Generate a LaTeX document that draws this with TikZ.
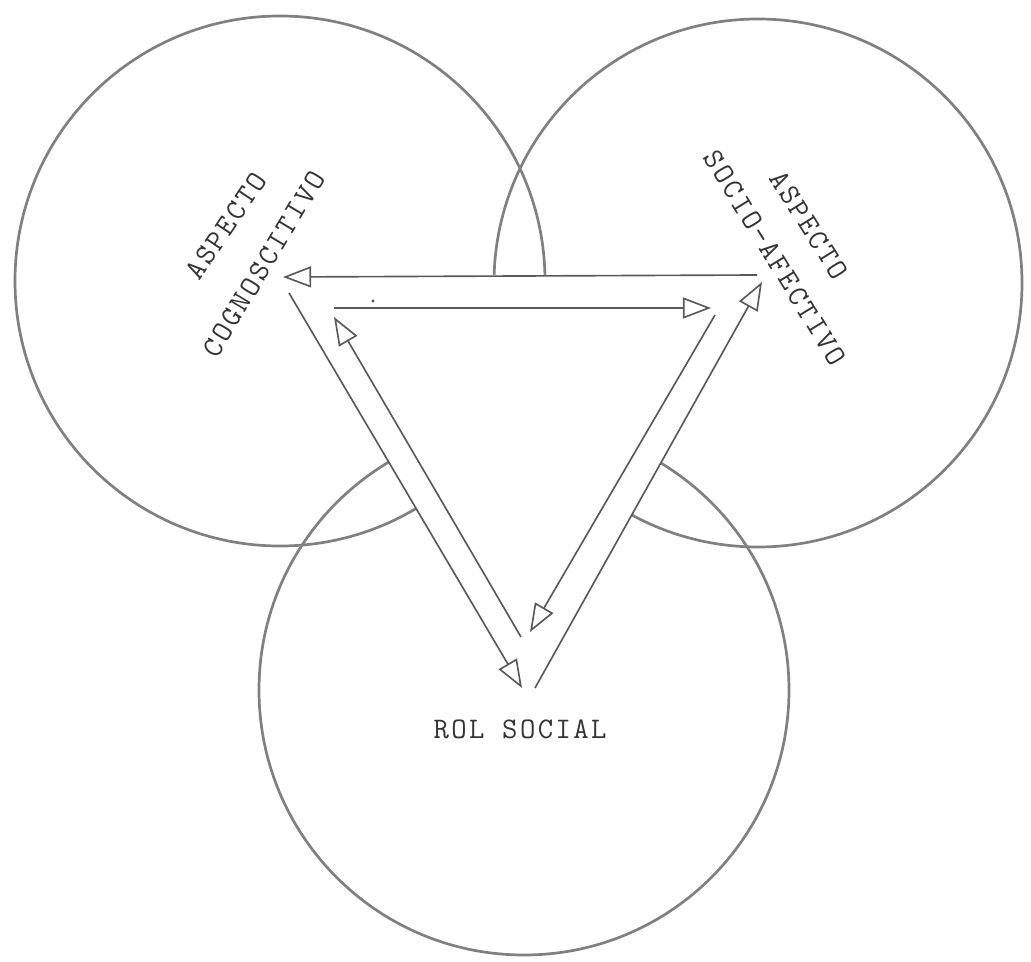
\documentclass[tikz,border=0pt]{standalone}
\usepackage{fontspec}
\newfontfamily\tw{Latin Modern Mono}[LetterSpace=8]
\usetikzlibrary{arrows.meta}
\begin{document}
\begin{tikzpicture}[x=0.03cm,y=-0.03cm,
  ring/.style={draw=black!50, line width=2.3pt},
  link/.style={draw=black!65, line width=1.4pt, -{Triangle[open,length=24pt,width=18pt,line width=1.4pt]}},
  lbl/.style={font=\tw\fontsize{25.5}{30}\selectfont, text=black!80, inner sep=0pt, text height=15.5pt, text depth=0pt}]
\useasboundingbox (0,0) rectangle (1031,962);
% circles
\draw[ring] (280,281) circle[radius=265];
\draw[ring] (758,283) circle[radius=264];
\draw[ring] (524,690) circle[radius=265];
% triangle hides the inner arcs
\fill[white] (278,275) -- (766,275) -- (529,698) -- cycle;
% arrow end points
\coordinate (tR) at (757,275);
\coordinate (tL) at (283,277);
\coordinate (iL) at (334,308);
\coordinate (iR) at (711,308);
\coordinate (lo1) at (289,293);
\coordinate (lo2) at (522,688);
\coordinate (li1) at (521,637);
\coordinate (li2) at (334,317);
\coordinate (ri1) at (715,315);
\coordinate (ri2) at (530,632);
\coordinate (ro1) at (535,688);
\coordinate (ro2) at (762,282);
% arrows
\draw[link] (tR) -- (tL);
\draw[link] (iL) -- (iR);
\draw[link] (lo1) -- (lo2);
\draw[link] (li1) -- (li2);
\draw[link] (ri1) -- (ri2);
\draw[link] (ro1) -- (ro2);
\fill[black!70] (373,301) circle[radius=1.6];
% labels
\node[lbl, rotate=56] (a1) at (226,226) {ASPECTO};
\node[lbl, rotate=59] (c1) at (264,264) {COGNOSCITIVO};
\node[lbl, rotate=-58] (a2) at (809,225) {ASPECTO};
\node[lbl, rotate=-58.5] (s2) at (775,258) {SOCIO-AFECTIVO};
\node[lbl] (r3) at (520,729) {ROL SOCIAL};
\end{tikzpicture}
\end{document}
